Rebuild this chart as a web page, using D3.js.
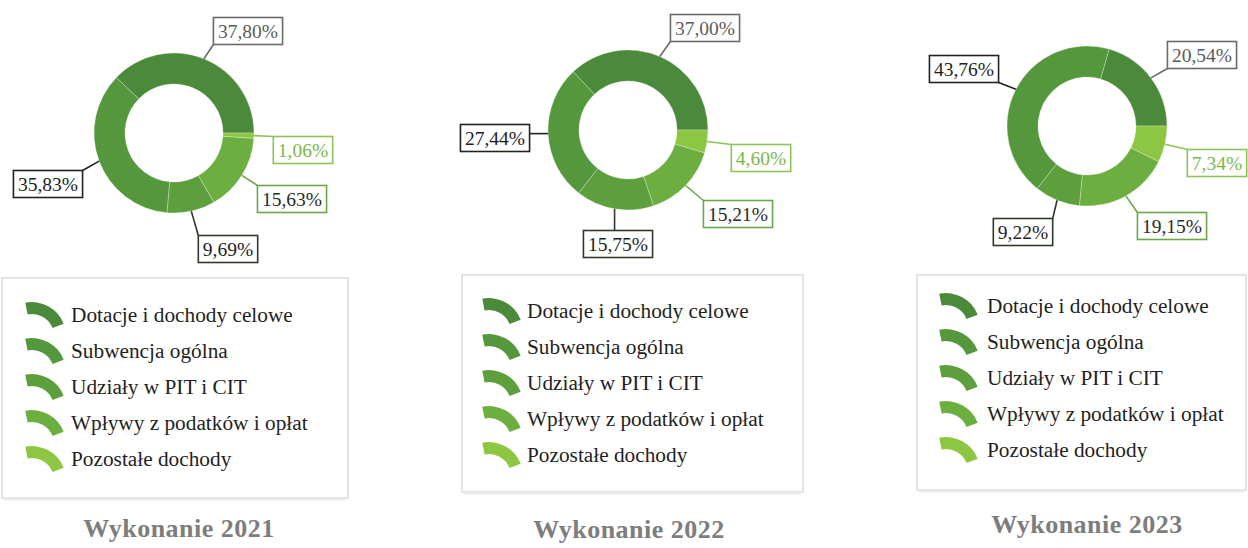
<!DOCTYPE html>
<html lang="pl">
<head>
<meta charset="utf-8">
<script src="https://cdn.jsdelivr.net/npm/d3@7"></script>
<style>
  html, body { margin: 0; padding: 0; background: #ffffff; }
  svg { display: block; }
  text { font-family: "Liberation Serif", "Times New Roman", serif; }
</style>
</head>
<body>
<svg id="chart" width="1248" height="548"></svg>
<script>
// Revenue structure (percent shares) for three budget years
const categories = [
  "Dotacje i dochody celowe",
  "Subwencja ogólna",
  "Udziały w PIT i CIT",
  "Wpływy z podatków i opłat",
  "Pozostałe dochody"
];
const titles = ["Wykonanie 2021", "Wykonanie 2022", "Wykonanie 2023"];
const shares2021 = [37.80, 35.83, 9.69, 15.63, 1.06];
const shares2022 = [37.00, 27.44, 15.75, 15.21, 4.60];
const shares2023 = [20.54, 43.76, 9.22, 19.15, 7.34];

// Visual styling per category
const sliceColors = ["#4b893b", "#55973c", "#5d9f3d", "#6dae40", "#8cc642"];
const labelText   = ["#5a5a5a", "#1e1e1e", "#1e1e1e", "#2a2a2a", "#7bb84a"];
const labelBorder = ["#6a6a6a", "#222222", "#2f3a2a", "#6aa84a", "#8cc35a"];

// Panel layout: donut centre, label box offsets (from centre), legend frame
const panels = [
  { cx: 174, cy: 133, legend: [2, 278, 346, 220], iconX: 26, textX: 71, row0: 315,
    titleX: 179, titleY: 537,
    offsets: [[74, -102], [-126, 51], [54, 116], [118, 66], [129, 17]] },
  { cx: 628, cy: 130, legend: [462, 275, 341, 217], iconX: 483, textX: 527, row0: 311,
    titleX: 629, titleY: 538,
    offsets: [[77, -102], [-133, 8], [-10, 114], [110, 84], [133, 28]] },
  { cx: 1087, cy: 126, legend: [917, 275, 329, 215], iconX: 940, textX: 987, row0: 306,
    titleX: 1087, titleY: 533,
    offsets: [[115, -71], [-123, -57], [-64, 106], [85, 100], [130, 37]] }
];
const seriesByPanel = [shares2021, shares2022, shares2023];

const outerR = 80, innerR = 49, rowStep = 36;

const svg = d3.select("#chart");
const color = d3.scaleOrdinal().domain(categories).range(sliceColors);

// slices run counter-clockwise starting at 3 o'clock
const pie = d3.pie().sort(null).value(d => d.value)
  .startAngle(Math.PI / 2).endAngle(Math.PI / 2 - 2 * Math.PI);
const arc = d3.arc().innerRadius(innerR).outerRadius(outerR);
// legend swatch: a short thick ring segment
const legendArc = d3.arc().innerRadius(22).outerRadius(34)
  .startAngle(-0.2).endAngle(1.2);

const fmt = v => v.toFixed(2).replace(".", ",") + "%";

panels.forEach((p, pi) => {
  const data = categories.map((c, i) => ({ cat: c, value: seriesByPanel[pi][i], idx: i }));
  const arcs = pie(data);
  const g = svg.append("g");

  // legend frame
  g.append("rect")
    .attr("x", p.legend[0]).attr("y", p.legend[1])
    .attr("width", p.legend[2]).attr("height", p.legend[3])
    .attr("fill", "#ffffff").attr("stroke", "#dcdcdc").attr("stroke-width", 1.5);
  g.append("line")
    .attr("x1", p.legend[0] + 2).attr("x2", p.legend[0] + p.legend[2] - 2)
    .attr("y1", p.legend[1] + p.legend[3] + 1.5).attr("y2", p.legend[1] + p.legend[3] + 1.5)
    .attr("stroke", "#ececec").attr("stroke-width", 2);

  // donut
  const donut = g.append("g").attr("transform", `translate(${p.cx},${p.cy})`);
  donut.selectAll("path.slice").data(arcs).join("path")
    .attr("class", "slice")
    .attr("d", arc)
    .attr("fill", d => color(d.data.cat))
    .attr("stroke", "rgba(255,255,255,0.35)")
    .attr("stroke-width", 0.8);

  // value labels with leader lines
  arcs.forEach(a => {
    const i = a.data.idx;
    const mid = (a.startAngle + a.endAngle) / 2;
    const sx = outerR * Math.sin(mid), sy = -outerR * Math.cos(mid);
    const [ox, oy] = p.offsets[i];

    const lbl = donut.append("g");
    const t = lbl.append("text")
      .attr("x", ox).attr("y", oy)
      .attr("text-anchor", "middle").attr("dominant-baseline", "central")
      .attr("font-size", 19.5).attr("fill", labelText[i])
      .text(fmt(a.data.value));
    const w = t.node().getComputedTextLength() + 9;
    const h = 27;
    const x0 = ox - w / 2, y0 = oy - h / 2;
    lbl.insert("rect", "text")
      .attr("x", x0).attr("y", y0).attr("width", w).attr("height", h)
      .attr("fill", "#ffffff").attr("stroke", labelBorder[i]).attr("stroke-width", 1.6);

    const ex = Math.max(x0, Math.min(x0 + w, sx));
    const ey = Math.max(y0, Math.min(y0 + h, sy));
    donut.insert("line", "g")
      .attr("x1", sx).attr("y1", sy).attr("x2", ex).attr("y2", ey)
      .attr("stroke", labelBorder[i]).attr("stroke-width", 1.6);
  });

  // legend entries
  categories.forEach((c, i) => {
    const ry = p.row0 + i * rowStep;
    g.append("path")
      .attr("d", legendArc())
      .attr("transform", `translate(${p.iconX + 6},${ry + 21})`)
      .attr("fill", color(c));
    g.append("text")
      .attr("x", p.textX).attr("y", ry)
      .attr("dominant-baseline", "central")
      .attr("font-size", 21.3).attr("fill", "#1f1f1f")
      .text(c);
  });

  // panel title
  g.append("text")
    .attr("x", p.titleX).attr("y", p.titleY)
    .attr("text-anchor", "middle")
    .attr("font-size", 26).attr("font-weight", "bold")
    .attr("letter-spacing", 0.5)
    .attr("fill", "#7d7d7d")
    .text(titles[pi]);
});
</script>
</body>
</html>
